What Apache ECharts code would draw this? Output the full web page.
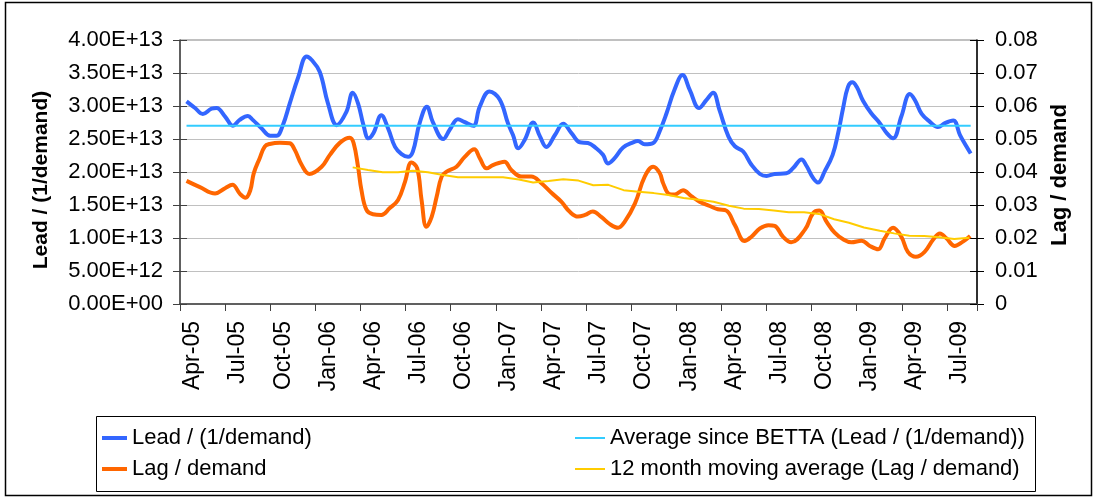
<!DOCTYPE html>
<html>
<head>
<meta charset="utf-8">
<script src="https://cdn.jsdelivr.net/npm/echarts@6/dist/echarts.min.js"></script>
<style>
  html, body { margin: 0; padding: 0; background: #fff; }
  #chart { width: 1099px; height: 500px; }
</style>
</head>
<body>
<div id="chart"></div>
<script>
// quarterly tick labels, one every 3 months from Apr-05
var tickLabels = ['Apr-05', 'Jul-05', 'Oct-05', 'Jan-06', 'Apr-06', 'Jul-06', 'Oct-06', 'Jan-07', 'Apr-07',
  'Jul-07', 'Oct-07', 'Jan-08', 'Apr-08', 'Jul-08', 'Oct-08', 'Jan-09', 'Apr-09', 'Jul-09'];

var leadDates = ['2005-04-14', '2005-05-01', '2005-05-17', '2005-06-04', '2005-06-14', '2005-07-01', '2005-07-17',
  '2005-07-31', '2005-08-17', '2005-08-27', '2005-09-14', '2005-10-01', '2005-10-14', '2005-10-27', '2005-11-10',
  '2005-11-27', '2005-12-14', '2005-12-24', '2006-01-10', '2006-01-27', '2006-02-13', '2006-03-03', '2006-03-16',
  '2006-03-27', '2006-04-07', '2006-04-17', '2006-04-27', '2006-05-13', '2006-05-27', '2006-06-10', '2006-06-23',
  '2006-07-06', '2006-07-16', '2006-07-30', '2006-08-14', '2006-08-26', '2006-09-16', '2006-09-29', '2006-10-16',
  '2006-10-29', '2006-11-16', '2006-11-29', '2006-12-19', '2007-01-09', '2007-01-26', '2007-02-05', '2007-02-15',
  '2007-02-27', '2007-03-16', '2007-03-30', '2007-04-12', '2007-04-29', '2007-05-16', '2007-06-02', '2007-06-19',
  '2007-07-05', '2007-07-22', '2007-08-05', '2007-08-15', '2007-08-29', '2007-09-15', '2007-10-05', '2007-10-15',
  '2007-10-29', '2007-11-15', '2007-11-28', '2007-12-12', '2007-12-28', '2008-01-14', '2008-01-29', '2008-02-16',
  '2008-03-01', '2008-03-15', '2008-03-28', '2008-04-15', '2008-04-28', '2008-05-15', '2008-06-01', '2008-06-18',
  '2008-07-01', '2008-07-18', '2008-08-11', '2008-08-25', '2008-09-11', '2008-09-21', '2008-10-04', '2008-10-14',
  '2008-10-28', '2008-11-13', '2008-11-24', '2008-12-04', '2008-12-14', '2008-12-23', '2009-01-01', '2009-01-14',
  '2009-01-31', '2009-02-16', '2009-03-01', '2009-03-14', '2009-03-31', '2009-04-17', '2009-04-27', '2009-05-11',
  '2009-05-28', '2009-06-13', '2009-06-27', '2009-07-14', '2009-07-28', '2009-08-10', '2009-08-19'];
var leadValues = [3.07e13, 2.97e13, 2.88e13, 2.96e13, 2.97e13, 2.84e13, 2.70e13,
  2.79e13, 2.85e13, 2.79e13, 2.66e13, 2.55e13, 2.55e13, 2.71e13, 3.04e13,
  3.44e13, 3.75e13, 3.70e13, 3.52e13, 3.04e13, 2.71e13, 2.91e13, 3.20e13,
  3.04e13, 2.71e13, 2.51e13, 2.59e13, 2.86e13, 2.66e13, 2.38e13, 2.27e13,
  2.23e13, 2.31e13, 2.74e13, 2.99e13, 2.76e13, 2.50e13, 2.64e13, 2.80e13,
  2.76e13, 2.70e13, 2.99e13, 3.22e13, 3.10e13, 2.74e13, 2.56e13, 2.36e13,
  2.49e13, 2.75e13, 2.54e13, 2.38e13, 2.56e13, 2.73e13, 2.59e13, 2.45e13,
  2.44e13, 2.36e13, 2.26e13, 2.13e13, 2.21e13, 2.37e13, 2.45e13, 2.47e13,
  2.42e13, 2.44e13, 2.62e13, 2.89e13, 3.24e13, 3.47e13, 3.24e13, 2.97e13,
  3.09e13, 3.20e13, 2.94e13, 2.54e13, 2.39e13, 2.31e13, 2.11e13, 1.97e13,
  1.94e13, 1.97e13, 1.98e13, 2.06e13, 2.19e13, 2.09e13, 1.91e13, 1.84e13,
  2.01e13, 2.26e13, 2.59e13, 2.97e13, 3.29e13, 3.36e13, 3.29e13, 3.08e13,
  2.89e13, 2.74e13, 2.59e13, 2.51e13, 2.84e13, 3.18e13, 3.09e13, 2.88e13,
  2.76e13, 2.68e13, 2.74e13, 2.78e13, 2.56e13, 2.39e13, 2.28e13];

var avgDates = ['2005-04-14', '2009-08-19'];
var avgValues = [2.70e13, 2.70e13];

var lagDates = ['2005-04-14', '2005-05-11', '2005-06-11', '2005-07-01', '2005-07-16', '2005-08-01', '2005-08-12',
  '2005-08-22', '2005-08-29', '2005-09-10', '2005-09-20', '2005-09-30', '2005-10-21', '2005-11-10', '2005-11-20',
  '2005-12-04', '2005-12-20', '2006-01-14', '2006-01-31', '2006-02-19', '2006-03-10', '2006-03-18', '2006-03-27',
  '2006-04-03', '2006-04-13', '2006-04-26', '2006-05-13', '2006-05-30', '2006-06-16', '2006-06-30', '2006-07-13',
  '2006-07-25', '2006-08-03', '2006-08-13', '2006-08-24', '2006-09-03', '2006-09-13', '2006-09-23', '2006-10-13',
  '2006-10-30', '2006-11-18', '2006-11-29', '2006-12-13', '2006-12-26', '2007-01-09', '2007-01-19', '2007-02-02',
  '2007-02-21', '2007-03-12', '2007-04-02', '2007-04-22', '2007-05-12', '2007-05-29', '2007-06-15', '2007-06-29',
  '2007-07-15', '2007-08-02', '2007-08-19', '2007-09-05', '2007-09-18', '2007-10-09', '2007-10-29', '2007-11-15',
  '2007-11-28', '2007-12-05', '2007-12-18', '2007-12-29', '2008-01-15', '2008-02-01', '2008-02-17', '2008-03-08',
  '2008-03-25', '2008-04-11', '2008-04-28', '2008-05-18', '2008-06-01', '2008-06-18', '2008-07-05', '2008-07-18',
  '2008-08-04', '2008-08-21', '2008-09-18', '2008-10-04', '2008-10-17', '2008-11-01', '2008-11-17', '2008-12-04',
  '2008-12-21', '2009-01-11', '2009-01-28', '2009-02-13', '2009-02-25', '2009-03-14', '2009-03-31', '2009-04-13',
  '2009-04-29', '2009-05-17', '2009-06-04', '2009-06-17', '2009-06-30', '2009-07-17', '2009-08-03', '2009-08-18'];
var lagValues = [0.0373, 0.0354, 0.0335, 0.0351, 0.0361, 0.0333, 0.0322,
  0.0345, 0.0396, 0.0442, 0.0477, 0.0485, 0.0489, 0.0487, 0.0467,
  0.0421, 0.0394, 0.0416, 0.0452, 0.0489, 0.0504, 0.0487, 0.0416,
  0.0345, 0.0285, 0.0272, 0.0270, 0.0290, 0.0315, 0.0371, 0.0429,
  0.0411, 0.0315, 0.0234, 0.0265, 0.0325, 0.0386, 0.0401, 0.0416,
  0.0446, 0.0469, 0.0442, 0.0411, 0.0421, 0.0428, 0.0431, 0.0406,
  0.0386, 0.0386, 0.0366, 0.0337, 0.0310, 0.0280, 0.0265, 0.0270,
  0.0280, 0.0263, 0.0242, 0.0231, 0.0249, 0.0305, 0.0386, 0.0416,
  0.0397, 0.0366, 0.0333, 0.0332, 0.0345, 0.0327, 0.0310, 0.0297,
  0.0287, 0.0283, 0.0239, 0.0191, 0.0204, 0.0229, 0.0239, 0.0237,
  0.0204, 0.0187, 0.0226, 0.0275, 0.0283, 0.0249, 0.0216, 0.0196,
  0.0187, 0.0192, 0.0176, 0.0166, 0.0199, 0.0231, 0.0204, 0.0158,
  0.0143, 0.0158, 0.0196, 0.0214, 0.0199, 0.0176, 0.0189, 0.0206];

var maDates = ['2006-03-16', '2006-04-16', '2006-05-16', '2006-06-16', '2006-07-16', '2006-08-16', '2006-09-16',
  '2006-10-16', '2006-11-16', '2006-12-16', '2007-01-16', '2007-02-16', '2007-03-16', '2007-04-16', '2007-05-16',
  '2007-06-16', '2007-07-16', '2007-08-16', '2007-09-16', '2007-10-16', '2007-11-16', '2007-12-16', '2008-01-16',
  '2008-02-16', '2008-03-16', '2008-04-16', '2008-05-16', '2008-06-16', '2008-07-16', '2008-08-16', '2008-09-16',
  '2008-10-16', '2008-11-16', '2008-12-16', '2009-01-16', '2009-02-16', '2009-03-16', '2009-04-16', '2009-05-16',
  '2009-06-16', '2009-07-16', '2009-08-16'];
var maValues = [0.0414, 0.0406, 0.0399, 0.0399, 0.0404, 0.0399, 0.0391,
  0.0384, 0.0384, 0.0384, 0.0384, 0.0377, 0.0368, 0.0373, 0.0378,
  0.0374, 0.0360, 0.0361, 0.0345, 0.0340, 0.0336, 0.0330, 0.0321,
  0.0316, 0.0310, 0.0298, 0.0289, 0.0288, 0.0283, 0.0278, 0.0278,
  0.0273, 0.0257, 0.0246, 0.0232, 0.0222, 0.0214, 0.0207, 0.0206,
  0.0202, 0.0197, 0.0201];

// month offset from 1 Apr 2005, fractional within the month
function monthPos(s) {
  var p = s.split('-');
  var y = +p[0], m = +p[1], d = +p[2];
  var dim = new Date(y, m, 0).getDate();
  return (y - 2005) * 12 + (m - 4) + (d - 1) / dim;
}
function pairs(dates, vals) {
  return dates.map(function (d, i) { return [monthPos(d), vals[i]]; });
}

var font = 'Liberation Sans, Arial, sans-serif';
var myChart = echarts.init(document.getElementById('chart'));

var option = {
  backgroundColor: '#fff',
  animation: false,
  textStyle: { fontFamily: font },
  grid: { left: 180, right: 122, top: 40, bottom: 196, show: true, borderColor: '#808080', borderWidth: 1 },
  legend: [{
    data: ['Lead / (1/demand)', 'Lag / demand'],
    orient: 'vertical', left: 97, top: 421, icon: 'rect',
    itemWidth: 25, itemHeight: 4, itemGap: 7,
    selectedMode: false,
    textStyle: { fontSize: 22, lineHeight: 24, color: '#000', fontFamily: font }
  }, {
    data: ['Average since BETTA (Lead / (1/demand))', '12 month moving average (Lag / demand)'],
    orient: 'vertical', left: 570, top: 421, icon: 'rect',
    itemWidth: 30, itemHeight: 2, itemGap: 7,
    selectedMode: false,
    textStyle: { fontSize: 22, lineHeight: 24, color: '#000', fontFamily: font }
  }],
  xAxis: {
    type: 'value', min: 0, max: 53, interval: 3,
    axisLine: { lineStyle: { color: '#404040', width: 1.5 } },
    axisTick: { length: 7, lineStyle: { color: '#404040' } },
    splitLine: { show: false },
    axisLabel: {
      rotate: 90, margin: 17, fontSize: 23, color: '#000', fontFamily: font,
      verticalAlign: 'top', lineHeight: 26,
      formatter: function (v) {
        var i = Math.round(v / 3);
        return (Math.abs(v - i * 3) < 1e-6 && tickLabels[i]) || '';
      }
    }
  },
  yAxis: [{
    type: 'value', position: 'left', min: 0, max: 4e13, interval: 5e12,
    axisLine: { show: true, lineStyle: { color: '#404040', width: 1.5 } },
    axisTick: { show: true, length: 7, lineStyle: { color: '#404040' } },
    splitLine: { lineStyle: { color: '#c0c0c0', width: 1 } },
    axisLabel: {
      margin: 17, fontSize: 22, color: '#000', fontFamily: font,
      formatter: function (v) {
        return v.toExponential(2).toUpperCase().replace(/E([+-])(\d)$/, 'E$10$2');
      }
    },
    name: 'Lead / (1/demand)', nameLocation: 'middle', nameGap: 128, nameRotate: 90,
    nameTextStyle: { fontSize: 21, fontWeight: 'bold', color: '#000', fontFamily: font, padding: [0, 16, 0, 0] }
  }, {
    type: 'value', position: 'right', min: 0, max: 0.08, interval: 0.01,
    axisLine: { show: true, lineStyle: { color: '#000', width: 1.5 } },
    axisTick: { show: true, length: 7, lineStyle: { color: '#000' } },
    splitLine: { show: false },
    axisLabel: {
      margin: 18, fontSize: 22, color: '#000', fontFamily: font,
      formatter: function (v) { return v === 0 ? '0' : v.toFixed(2); }
    },
    name: 'Lag / demand', nameLocation: 'middle', nameGap: 72, nameRotate: 90,
    nameTextStyle: { fontSize: 22, fontWeight: 'bold', color: '#000', fontFamily: font, padding: [0, 6, 0, 0] }
  }, {
    // inner half of the cross tick marks
    type: 'value', position: 'left', min: 0, max: 4e13, interval: 5e12,
    axisLine: { show: false }, splitLine: { show: false }, axisLabel: { show: false },
    axisTick: { show: true, inside: true, length: 7, lineStyle: { color: '#404040' } }
  }, {
    type: 'value', position: 'right', min: 0, max: 0.08, interval: 0.01,
    axisLine: { show: false }, splitLine: { show: false }, axisLabel: { show: false },
    axisTick: { show: true, inside: true, length: 7, lineStyle: { color: '#000' } }
  }],
  series: [{
    name: 'Lead / (1/demand)', type: 'line', yAxisIndex: 0,
    data: pairs(leadDates, leadValues),
    smooth: 0.4, symbol: 'none',
    lineStyle: { color: '#3366ff', width: 4 }, itemStyle: { color: '#3366ff' }
  }, {
    name: 'Average since BETTA (Lead / (1/demand))', type: 'line', yAxisIndex: 0,
    data: pairs(avgDates, avgValues),
    symbol: 'none',
    lineStyle: { color: '#33ccff', width: 2 }, itemStyle: { color: '#33ccff' }
  }, {
    name: 'Lag / demand', type: 'line', yAxisIndex: 1,
    data: pairs(lagDates, lagValues),
    smooth: 0.4, symbol: 'none',
    lineStyle: { color: '#ff6600', width: 4 }, itemStyle: { color: '#ff6600' }
  }, {
    name: '12 month moving average (Lag / demand)', type: 'line', yAxisIndex: 1,
    data: pairs(maDates, maValues),
    symbol: 'none',
    lineStyle: { color: '#ffcc00', width: 2 }, itemStyle: { color: '#ffcc00' }
  }],
  graphic: [{
    type: 'rect', silent: true,
    shape: { x: 5.5, y: 2.5, width: 1086, height: 493 },
    style: { fill: 'transparent', stroke: '#000', lineWidth: 1.5 }
  }, {
    type: 'rect', silent: true,
    shape: { x: 96.5, y: 416.5, width: 939, height: 75 },
    style: { fill: 'transparent', stroke: '#000', lineWidth: 1 }
  }]
};

myChart.setOption(option);
window.addEventListener('resize', function () {
  myChart.resize();
});
</script>
</body>
</html>
